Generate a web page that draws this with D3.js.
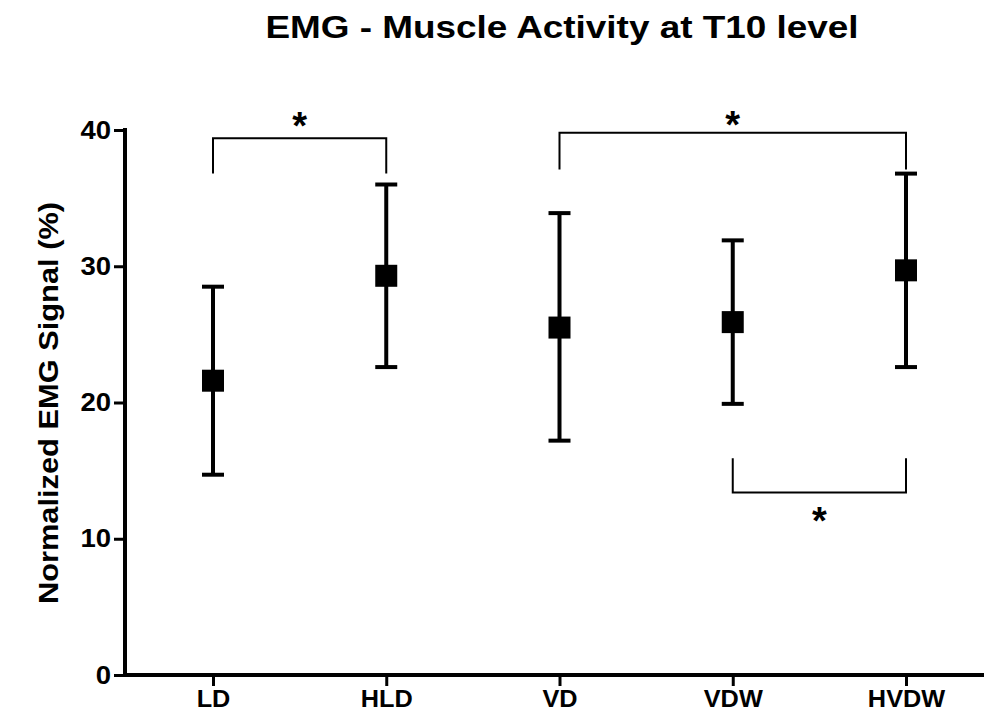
<!DOCTYPE html>
<html>
<head>
<meta charset="utf-8">
<script src="https://cdn.jsdelivr.net/npm/d3@7"></script>
<style>
  body { margin: 0; background: #fff; }
  text { font-family: "Liberation Sans", Arial, sans-serif; font-weight: bold; }
</style>
</head>
<body>
<div id="chart"></div>
<script>
const categories = ['LD', 'HLD', 'VD', 'VDW', 'HVDW'];
const means = [21.6, 29.3, 25.5, 25.9, 29.7];
const upper = [28.5, 36.0, 33.9, 31.9, 36.8];
const lower = [14.7, 22.6, 17.2, 19.9, 22.6];
const yTicks = [0, 10, 20, 30, 40];

// significance brackets: from, to, bar level, leg end level, star centre
const brackets = [
    { from: 'LD', to: 'HLD', bar: 39.4, leg: 36.8, star: 40.5 },
    { from: 'VD', to: 'HVDW', bar: 39.8, leg: 37.1, star: 40.6 },
    { from: 'VDW', to: 'HVDW', bar: 13.4, leg: 15.9, star: 11.5 }
];

const width = 984;
const height = 718;
const margin = { top: 130, bottom: 43, left: 125, right: 0 };

const svg = d3.select('#chart')
    .append('svg')
    .attr('width', width)
    .attr('height', height);

// the source figure uses a slightly wider bold face than Arial
function stretch(sel, k) {
    sel.each(function () {
        const w = this.getComputedTextLength();
        d3.select(this).attr('textLength', w * k).attr('lengthAdjust', 'spacingAndGlyphs');
    });
}

const x = d3.scalePoint()
    .domain(categories)
    .range([213, 906]);

const y = d3.scaleLinear()
    .domain([0, 40])
    .range([height - margin.bottom, margin.top]);

// title
svg.append('text')
    .attr('x', 562)
    .attr('y', 38)
    .attr('text-anchor', 'middle')
    .attr('font-size', '31px')
    .text('EMG - Muscle Activity at T10 level')
    .call(stretch, 1.19);

// y axis
const yAxis = svg.append('g')
    .attr('transform', `translate(${margin.left},0)`)
    .call(d3.axisLeft(y).tickValues(yTicks).tickSize(11).tickPadding(3));
yAxis.select('.domain').attr('stroke-width', 4).attr('d', `M0,${y(40) - 2}V${y(0) + 2}`);
yAxis.selectAll('.tick line').attr('stroke-width', 3);
yAxis.selectAll('.tick text').attr('font-size', '25px').attr('fill', '#000').call(stretch, 1.1);

// x axis
const xAxis = svg.append('g')
    .attr('transform', `translate(0,${y(0)})`)
    .call(d3.axisBottom(x).tickSize(11).tickPadding(5));
xAxis.select('.domain').attr('stroke-width', 4).attr('d', `M${margin.left - 2},0H${width}`);
xAxis.selectAll('.tick line').attr('stroke-width', 3);
xAxis.selectAll('.tick text').attr('font-size', '23px').attr('fill', '#000').call(stretch, 1.1);

// y label
svg.append('text')
    .attr('transform', `translate(58,403) rotate(-90)`)
    .attr('text-anchor', 'middle')
    .attr('font-size', '28px')
    .text('Normalized EMG Signal (%)')
    .call(stretch, 1.1);

const rows = categories.map((c, i) => ({ c, m: means[i], hi: upper[i], lo: lower[i] }));

// error bars
const eb = svg.append('g').attr('stroke', '#000').attr('stroke-width', 4);
eb.selectAll('line.v')
    .data(rows)
    .join('line')
    .attr('class', 'v')
    .attr('x1', d => x(d.c)).attr('x2', d => x(d.c))
    .attr('y1', d => y(d.hi)).attr('y2', d => y(d.lo));
eb.selectAll('line.top')
    .data(rows)
    .join('line')
    .attr('class', 'top')
    .attr('x1', d => x(d.c) - 11).attr('x2', d => x(d.c) + 11)
    .attr('y1', d => y(d.hi)).attr('y2', d => y(d.hi));
eb.selectAll('line.bot')
    .data(rows)
    .join('line')
    .attr('class', 'bot')
    .attr('x1', d => x(d.c) - 11).attr('x2', d => x(d.c) + 11)
    .attr('y1', d => y(d.lo)).attr('y2', d => y(d.lo));

// mean squares
svg.append('g')
    .selectAll('rect')
    .data(rows)
    .join('rect')
    .attr('x', d => x(d.c) - 11)
    .attr('y', d => y(d.m) - 11)
    .attr('width', 22)
    .attr('height', 22)
    .attr('fill', '#000');

// brackets
const br = svg.append('g');
br.selectAll('path')
    .data(brackets)
    .join('path')
    .attr('fill', 'none')
    .attr('stroke', '#000')
    .attr('stroke-width', 2)
    .attr('d', d => `M${x(d.from)},${y(d.leg)}V${y(d.bar)}H${x(d.to)}V${y(d.leg)}`);
br.selectAll('text')
    .data(brackets)
    .join('text')
    .attr('x', d => (x(d.from) + x(d.to)) / 2)
    .attr('y', d => y(d.star) + 16)
    .attr('text-anchor', 'middle')
    .attr('font-size', '38px')
    .attr('font-weight', 'normal')
    .text('*');
</script>
</body>
</html>
